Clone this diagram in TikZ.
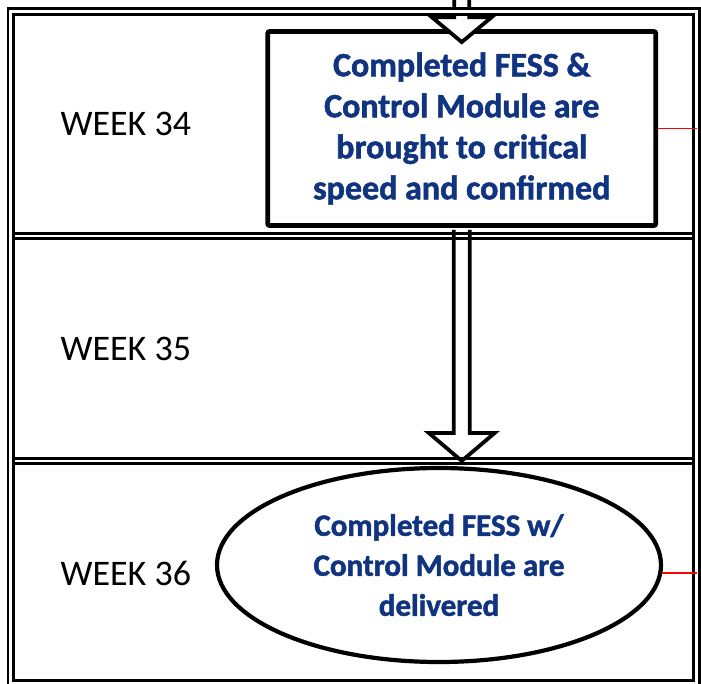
\documentclass[tikz,border=0pt]{standalone}
\usepackage{fontspec}
\setmainfont{Carlito}
\newfontfamily\heavyfont[FakeBold=1.6]{Carlito Bold}
\usetikzlibrary{shapes,positioning,calc}
\definecolor{taskblue}{RGB}{16,52,128}

\begin{document}
\begin{tikzpicture}
  [x=1pt,y=-1pt,
  cell/.style={double, double distance=2.8pt, line width=2.8pt},
  week/.style={anchor=west, font=\fontsize{36}{43}\selectfont},
  task/.style={
    rectangle,
    draw,
    line width=4.8pt,
    rounded corners=2pt,
    minimum width=388pt,
    minimum height=194pt,
    align=center,
    text=taskblue,
    font=\fontsize{34}{41}\heavyfont
    },
  goal/.style={
    ellipse,
    draw,
    line width=4.2pt,
    inner sep=0pt,
    minimum width=444pt,
    minimum height=194pt,
    align=center,
    text=taskblue,
    font=\fontsize{31}{40}\heavyfont
    },
  blockarrow/.style={draw, line width=3.8pt, line join=miter},
  link/.style={draw=red, line width=1.8pt}
  ]
  \useasboundingbox (0,0) rectangle (701,683);

  % righe della tabella
  \draw[cell] (13.5,236) -- (694,236);
  \draw[cell] (13.5,461) -- (694,461);

  \node[week] (week34) at (57,124) {WEEK 34};
  \node[week, below=224.5pt of week34.west, anchor=west] (week35) {WEEK 35};
  \node[week, below=224.5pt of week35.west, anchor=west] (week36) {WEEK 36};

  \node[task] (speedtest) at (461.75,128.5)
    {Completed FESS \&\\Control Module are\\brought to critical\\speed and confirmed};
  \node[goal] (delivery) at (439,565)
    {Completed FESS w/\\Control Module are\\delivered};

  \coordinate (toptip) at ($(speedtest.north)+(0,13)$);
  \coordinate (lowtip) at ($(speedtest.south |- delivery.north)+(0,-5)$);
  \coordinate (rim) at (697,0);

  \draw[blockarrow, fill=white] ($(toptip)+(-7.5,-45)$) -- ($(toptip)+(-7.5,-25)$) -- ($(toptip)+(-30,-25)$) -- (toptip) -- ($(toptip)+(30,-25)$) -- ($(toptip)+(7.5,-25)$) -- ($(toptip)+(7.5,-45)$);
  \draw[blockarrow] ($(speedtest.south)+(-8,2)$) -- ($(lowtip)+(-8,-28)$) -- ($(lowtip)+(-33,-28)$) -- (lowtip) -- ($(lowtip)+(33,-28)$) -- ($(lowtip)+(8,-28)$) -- ($(speedtest.south)+(8,2)$);

  % cornice
  \draw[cell] (10.75,11.5) rectangle (696.5,683.5);

  \draw[link] (speedtest.east) -- (speedtest.east -| rim);
  \draw[link] (delivery.-2.6) -- (delivery.-2.6 -| rim);
\end{tikzpicture}
\end{document}
